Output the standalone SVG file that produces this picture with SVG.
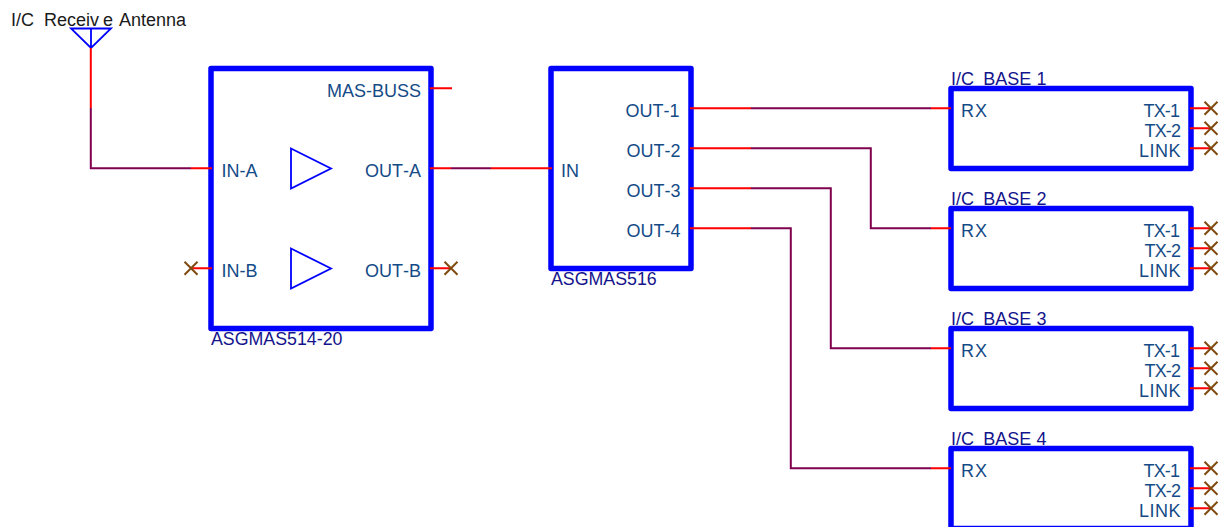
<svg xmlns="http://www.w3.org/2000/svg" width="1220" height="527" viewBox="0 0 1220 527">
<style>
text{font-family:"Liberation Sans",Arial,sans-serif;font-size:18px;font-kerning:none}
.box{fill:none;stroke:#0000ff;stroke-width:5.5;stroke-linejoin:round}
.sym{fill:none;stroke:#0000ff;stroke-width:1.8}
.pin{fill:#144b87}
.end{text-anchor:end}
.name{fill:#14148c}
.asg{font-size:17.800px}
.title{fill:#1a1a1a}
.red{fill:none;stroke:#ff0000;stroke-width:2}
.wire{fill:none;stroke:#80004f;stroke-width:2}
.x{fill:none;stroke:#804a10;stroke-width:2}
</style>
<defs>
<path id="nc" class="x" d="M-6.500-6.500L6.500 6.500M-6.500 6.500L6.500-6.500"/>
<g id="base">
<rect class="box" x="951" y="88.500" width="240" height="80"/>
<path class="red" d="M931 108.300H951M1190 108.300H1211M1190 128.300H1211M1190 148.300H1211"/>
<use href="#nc" x="1211" y="108.300"/><use href="#nc" x="1211" y="128.300"/><use href="#nc" x="1211" y="148.300"/>
<text class="pin" x="961" y="116.700" letter-spacing="1">RX</text>
<text class="pin end" x="1179" y="116.700" letter-spacing="-0.900">TX-1</text>
<text class="pin end" x="1180" y="136.700" letter-spacing="-0.900">TX-2</text>
<text class="pin end" x="1181" y="156.700" letter-spacing="0.500">LINK</text>
</g>
</defs>
<g id="antenna">
<text class="title"><tspan x="11" y="25.500">I/C</tspan><tspan x="44" y="25.500">Receiv</tspan><tspan x="103" y="25.500">e</tspan><tspan x="119" y="25.500">Antenna</tspan></text>
<path class="sym" d="M71 28.500H111L91 48ZM91 28.500V48"/>
</g>
<g id="asgmas514">
<text class="name asg" x="211" y="345">ASGMAS514-20</text>
<rect class="box" x="211" y="68.500" width="220" height="260"/>
<path class="sym" d="M291 148.500L331 168.500L291 188.500Z"/>
<path class="sym" d="M291 248.500L331 268.500L291 288.500Z"/>
<text class="pin end" x="421" y="96.700">MAS-BUSS</text>
<text class="pin" x="221.500" y="176.700">IN-A</text>
<text class="pin end" x="421" y="176.700">OUT-A</text>
<text class="pin" x="221.500" y="276.700">IN-B</text>
<text class="pin end" x="421" y="276.700">OUT-B</text>
</g>
<g id="asgmas516">
<text class="name asg" x="551" y="285">ASGMAS516</text>
<rect class="box" x="551" y="68.500" width="140" height="200"/>
<text class="pin" x="561" y="176.700">IN</text>
<text class="pin end" x="679.500" y="116.700">OUT-1</text>
<text class="pin end" x="680.500" y="156.700">OUT-2</text>
<text class="pin end" x="680.500" y="196.700">OUT-3</text>
<text class="pin end" x="680.500" y="236.700">OUT-4</text>
</g>
<g id="base1"><text class="name"><tspan x="951" y="84.500">I/C</tspan><tspan x="983.300" y="84.500">BASE</tspan><tspan x="1036.500" y="84.500">1</tspan></text><use href="#base"/></g>
<g id="base2"><text class="name"><tspan x="951" y="204.500">I/C</tspan><tspan x="983.300" y="204.500">BASE</tspan><tspan x="1036.500" y="204.500">2</tspan></text><use href="#base" y="120"/></g>
<g id="base3"><text class="name"><tspan x="951" y="324.500">I/C</tspan><tspan x="983.300" y="324.500">BASE</tspan><tspan x="1036.500" y="324.500">3</tspan></text><use href="#base" y="240"/></g>
<g id="base4"><text class="name"><tspan x="951" y="444.500">I/C</tspan><tspan x="983.300" y="444.500">BASE</tspan><tspan x="1036.500" y="444.500">4</tspan></text><use href="#base" y="360"/></g>
<g id="connectors">
<path class="wire" d="M90.800 108V168.300H191"/>
<path class="wire" d="M451 168.300H491"/>
<path class="wire" d="M751 108.300H931"/>
<path class="wire" d="M751 148.300H870.800V228.300H931"/>
<path class="wire" d="M751 188.300H830.800V348.300H931"/>
<path class="wire" d="M751 228.300H790.800V468.300H931"/>
<path class="red" d="M90.800 48V108M191 168.300H212M430 168.300H451M491 168.300H552M690 108.300H751M690 148.300H751M690 188.300H751M690 228.300H751"/>
<path class="red" d="M430 88.300H452M191 268.300H212M430 268.300H451"/>
<use href="#nc" x="191" y="268.300"/><use href="#nc" x="451" y="268.300"/>
</g>
</svg>
